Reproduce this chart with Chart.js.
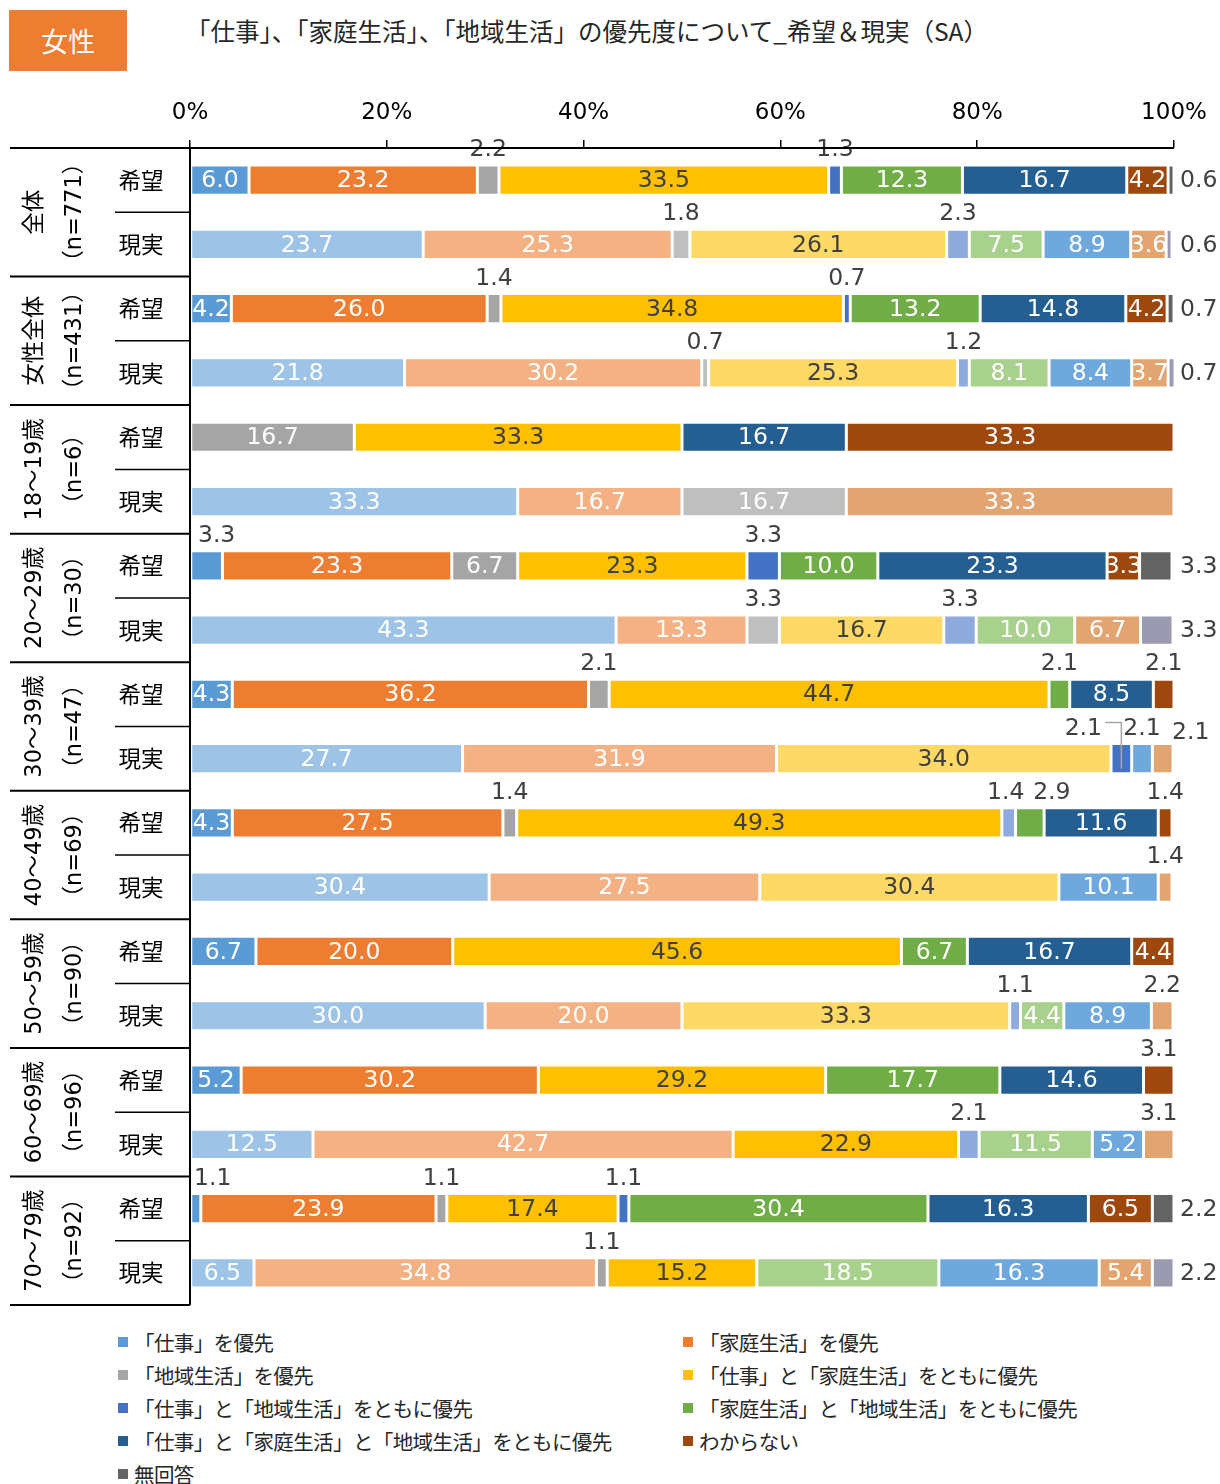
<!DOCTYPE html>
<html lang="ja">
<head>
<meta charset="utf-8">
<script src="https://cdn.jsdelivr.net/npm/chart.js"></script>
<style>
  body { margin: 0; width: 1220px; height: 1484px; position: relative; background: #fff; overflow: hidden; }
  #badge { position: absolute; left: 9px; top: 10px; width: 118px; height: 61px; background: #ED7D31; color: #fff;
    font: 27px "Noto Sans CJK JP", sans-serif; display: flex; align-items: center; justify-content: center; }
  #title { position: absolute; left: 186px; top: 13px; font: 24.5px "Noto Sans CJK JP", sans-serif; color: #262626; white-space: nowrap; }
  #chart { position: absolute; left: 0; top: 0; }
  #legend { position: absolute; left: 118px; top: 1325px; display: grid; grid-template-columns: 565px auto; grid-auto-rows: 33px;
    font: 20.5px "Noto Sans CJK JP", sans-serif; letter-spacing: -0.6px; color: #262626; }
  #legend div { display: flex; align-items: center; white-space: nowrap; }
  #legend span { display: inline-block; width: 10px; height: 10px; margin-right: 6px; }
</style>
</head>
<body>
<div id="badge">女性</div>
<div id="title">「仕事」、「家庭生活」、「地域生活」の優先度について_希望＆現実（SA）</div>
<canvas id="chart" width="1220" height="1310"></canvas>
<div id="legend"></div>
<script>
// categories (stack order)
const categories = [
    '「仕事」を優先',
    '「家庭生活」を優先',
    '「地域生活」を優先',
    '「仕事」と「家庭生活」をともに優先',
    '「仕事」と「地域生活」をともに優先',
    '「家庭生活」と「地域生活」をともに優先',
    '「仕事」と「家庭生活」と「地域生活」をともに優先',
    'わからない',
    '無回答'
]

const groups = ['全体', '女性全体', '18～19歳', '20～29歳', '30～39歳', '40～49歳', '50～59歳', '60～69歳', '70～79歳']
const groupN = ['（n=771）', '（n=431）', '（n=6）', '（n=30）', '（n=47）', '（n=69）', '（n=90）', '（n=96）', '（n=92）']
const rowTypes = ['希望', '現実']
const xTicks = [0, 20, 40, 60, 80, 100]

// 希望 rows, one per group, values in category order
const hopeRows = [
    [6.0, 23.2, 2.2, 33.5, 1.3, 12.3, 16.7, 4.2, 0.6],
    [4.2, 26.0, 1.4, 34.8, 0.7, 13.2, 14.8, 4.2, 0.7],
    [0, 0, 16.7, 33.3, 0, 0, 16.7, 33.3, 0],
    [3.3, 23.3, 6.7, 23.3, 3.3, 10.0, 23.3, 3.3, 3.3],
    [4.3, 36.2, 2.1, 44.7, 0, 2.1, 8.5, 2.1, 0],
    [4.3, 27.5, 1.4, 49.3, 1.4, 2.9, 11.6, 1.4, 0],
    [6.7, 20.0, 0, 45.6, 0, 6.7, 16.7, 4.4, 0],
    [5.2, 30.2, 0, 29.2, 0, 17.7, 14.6, 3.1, 0],
    [1.1, 23.9, 1.1, 17.4, 1.1, 30.4, 16.3, 6.5, 2.2]
]
// 現実 rows
const realRows = [
    [23.7, 25.3, 1.8, 26.1, 2.3, 7.5, 8.9, 3.6, 0.6],
    [21.8, 30.2, 0.7, 25.3, 1.2, 8.1, 8.4, 3.7, 0.7],
    [33.3, 16.7, 16.7, 0, 0, 0, 0, 33.3, 0],
    [43.3, 13.3, 3.3, 16.7, 3.3, 10.0, 0, 6.7, 3.3],
    [27.7, 31.9, 0, 34.0, 2.1, 0, 2.1, 2.1, 0],
    [30.4, 27.5, 0, 30.4, 0, 0, 10.1, 1.4, 0],
    [30.0, 20.0, 0, 33.3, 1.1, 4.4, 8.9, 2.2, 0],
    [12.5, 42.7, 0, 22.9, 2.1, 11.5, 5.2, 3.1, 0],
    [6.5, 34.8, 1.1, 15.2, 0, 18.5, 16.3, 5.4, 2.2]
]

const hopeColors = ['#5B9BD5', '#ED7D31', '#A5A5A5', '#FFC000', '#4472C4', '#70AD47', '#255E91', '#9E480E', '#636363']
const realColors = ['#9DC3E6', '#F4B183', '#BFBFBF', '#FFD966', '#8FAADC', '#A9D18E', '#6FA8DC', '#E2A571', '#9A9AB0']
// cells drawn with the other palette in the original ([row, category])
const colorSwaps = [[9, 4], [10, 4], [15, 3], [17, 3], [17, 2]]

// label tweaks: 'row-cat' -> [dx, dy]
const labelNudge = { '6-0': [10, 0], '9-4': [-38, 0], '9-7': [28, 4], '10-4': [-3, 0], '10-5': [22, 0], '16-0': [17, 0] }
const forceInside = ['6-7']

const rows = []
const rowLabels = []
for (let g = 0; g < groups.length; g++) {
    rows.push(hopeRows[g], realRows[g])
    rowLabels.push(rowTypes[0], rowTypes[1])
}

const numFont = '"DejaVu Sans", "Noto Sans CJK JP", sans-serif'
const jpFont = '"Noto Sans CJK JP", sans-serif'

const datasets = categories.map((name, c) => ({
    label: name,
    data: rows.map(r => r[c]),
    backgroundColor: rows.map((_, r) => {
        const swap = colorSwaps.some(s => s[0] === r && s[1] === c)
        const real = (r % 2 === 1) !== swap
        return real ? realColors[c] : hopeColors[c]
    }),
    borderColor: '#fff',
    borderWidth: 1.5,
    borderSkipped: false,
    barPercentage: 0.47,
    categoryPercentage: 1
}))

//segment value labels
const segLabels = {
    id: 'segLabels',
    afterDatasetsDraw(chart) {
        const ctx = chart.ctx
        ctx.save()
        ctx.font = '23.5px ' + numFont
        ctx.textBaseline = 'middle'
        chart.data.datasets.forEach((ds, c) => {
            const meta = chart.getDatasetMeta(c)
            meta.data.forEach((bar, r) => {
                const v = ds.data[r]
                if (!v) return
                const p = bar.getProps(['x', 'y', 'base', 'height'], true)
                const left = Math.min(p.x, p.base), right = Math.max(p.x, p.base)
                const top = p.y - p.height / 2
                const key = r + '-' + c
                const nd = labelNudge[key] || [0, 0]
                const txt = v.toFixed(1)
                if (c === 8) {
                    ctx.fillStyle = '#404040'
                    ctx.textAlign = 'left'
                    ctx.fillText(txt, chart.chartArea.right + 6 + nd[0], p.y + 1 + nd[1])
                } else if (v >= 3.5 || forceInside.includes(key)) {
                    ctx.save()
                    ctx.beginPath()
                    ctx.rect(left, top, right - left, p.height)
                    ctx.clip()
                    ctx.fillStyle = c === 3 ? '#404040' : '#fff'
                    ctx.textAlign = 'center'
                    ctx.fillText(txt, (left + right) / 2 + nd[0], p.y + 1 + nd[1])
                    ctx.restore()
                } else {
                    const lx = (left + right) / 2 + nd[0], ly = top - 15 + nd[1]
                    ctx.fillStyle = '#404040'
                    ctx.textAlign = 'center'
                    ctx.fillText(txt, lx, ly)
                    if (nd[0] < -20) {
                        // leader line back to the segment
                        const w = ctx.measureText(txt).width
                        ctx.strokeStyle = '#A6A6A6'
                        ctx.lineWidth = 1.5
                        ctx.beginPath()
                        ctx.moveTo(lx + w / 2 + 3, ly - 6)
                        ctx.lineTo((left + right) / 2, ly - 6)
                        ctx.lineTo((left + right) / 2, p.y + 10)
                        ctx.stroke()
                    }
                }
            })
        })
        ctx.restore()
    }
}

//left table: group names, 希望/現実, rules
const sideTable = {
    id: 'sideTable',
    afterDraw(chart) {
        const ctx = chart.ctx
        const area = chart.chartArea
        const y = chart.scales.y
        const rowH = (area.bottom - area.top) / rows.length
        ctx.save()
        ctx.strokeStyle = '#000'
        ctx.lineWidth = 2
        ctx.beginPath()
        ctx.moveTo(10, area.top); ctx.lineTo(area.right, area.top)
        ctx.moveTo(area.left, area.top); ctx.lineTo(area.left, area.bottom)
        for (let g = 1; g <= groups.length; g++) {
            const gy = area.top + g * 2 * rowH
            ctx.moveTo(10, gy); ctx.lineTo(area.left, gy)
        }
        ctx.stroke()
        ctx.lineWidth = 1.5
        ctx.beginPath()
        for (let g = 0; g < groups.length; g++) {
            const sy = area.top + (2 * g + 1) * rowH
            ctx.moveTo(115, sy); ctx.lineTo(area.left, sy)
        }
        ctx.stroke()

        ctx.fillStyle = '#000'
        ctx.textAlign = 'center'
        ctx.textBaseline = 'middle'
        ctx.font = '22.5px ' + jpFont
        rowLabels.forEach((lab, r) => {
            ctx.fillText(lab, 141, y.getPixelForValue(r))
        })
        groups.forEach((name, g) => {
            const cy = area.top + (2 * g + 1) * rowH
            ctx.save()
            ctx.translate(35, cy)
            ctx.rotate(-Math.PI / 2)
            ctx.font = '22.5px ' + numFont
            ctx.fillText(name, 0, 0)
            ctx.restore()
            ctx.save()
            ctx.translate(75, cy)
            ctx.rotate(-Math.PI / 2)
            ctx.font = '22.5px ' + numFont
            ctx.fillText(groupN[g], 0, 0)
            ctx.restore()
        })
        ctx.restore()
    }
}

const chart = new Chart(
    document.getElementById('chart'),
    {
        type: 'bar',
        data: { labels: rowLabels, datasets: datasets },
        options: {
            indexAxis: 'y',
            responsive: false,
            animation: false,
            layout: { padding: { top: 0, right: 46, bottom: 5, left: 0 } },
            plugins: {
                legend: { display: false },
                tooltip: { enabled: false }
            },
            scales: {
                x: {
                    position: 'top',
                    stacked: true,
                    min: 0,
                    max: 100,
                    afterFit: s => { s.height = 148 },
                    afterBuildTicks: s => { s.ticks = xTicks.map(v => ({ value: v })) },
                    grid: { drawOnChartArea: false, drawTicks: true, tickLength: 8, color: '#000', lineWidth: 1.5 },
                    border: { display: false },
                    ticks: {
                        padding: 13,
                        color: '#000',
                        font: { family: numFont, size: 23 },
                        callback: v => v + '%'
                    }
                },
                y: {
                    stacked: true,
                    afterFit: s => { s.width = 190 },
                    grid: { display: false },
                    border: { display: false },
                    ticks: { display: false }
                }
            }
        },
        plugins: [segLabels, sideTable]
    });

//legend
const legend = document.getElementById('legend')
categories.forEach((name, c) => {
    const item = document.createElement('div')
    item.innerHTML = `<span style="background:${hopeColors[c]}"></span>${name}`
    legend.appendChild(item)
})
</script>
</body>
</html>
